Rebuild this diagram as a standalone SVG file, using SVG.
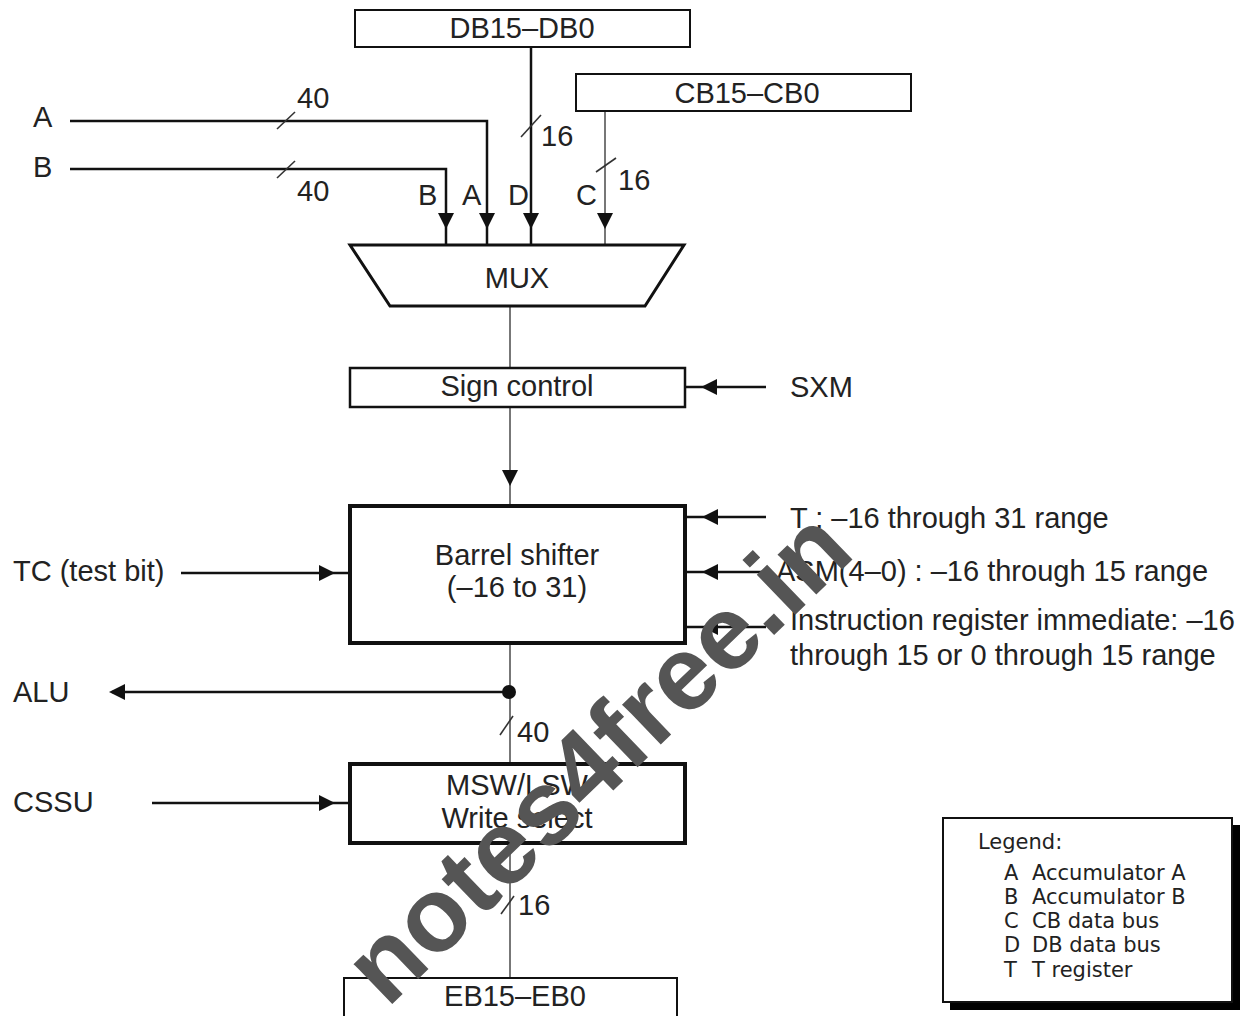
<svg xmlns="http://www.w3.org/2000/svg" width="1250" height="1016" viewBox="0 0 1250 1016">
<style>
text{font-family:"Liberation Sans",Arial,sans-serif;fill:#222;}
.t{font-size:29px;}
.c{text-anchor:middle;}
.box{fill:#fff;stroke:#111;}
.bus{fill:none;stroke:#111;stroke-width:2.5;}
.thin{fill:none;stroke:#555;stroke-width:1.6;}
.sl{fill:none;stroke:#333;stroke-width:1.6;}
.lg{font-family:"DejaVu Sans",Verdana,sans-serif;font-size:21px;fill:#222;}
.ah{fill:#111;}
.wm{font-family:"Liberation Sans",Arial,sans-serif;font-weight:bold;font-size:105px;fill:#555;}
</style>
<defs>
<polygon id="ad" points="0,0 -8,-16 8,-16"/>
</defs>
<rect width="1250" height="1016" fill="#fff"/>

<g id="connectors">
  <polyline class="bus" points="70,121 487,121 487,245"/>
  <polyline class="bus" points="70,169 446,169 446,245"/>
  <line class="bus" x1="531" y1="48" x2="531" y2="245" stroke-width="2"/>
  <line class="thin" x1="605" y1="111" x2="605" y2="245"/>
  <use href="#ad" class="ah" x="446" y="229"/>
  <use href="#ad" class="ah" x="487" y="229"/>
  <use href="#ad" class="ah" x="531" y="229"/>
  <use href="#ad" class="ah" x="605" y="229"/>
  <line class="sl" x1="277" y1="129" x2="295" y2="112"/>
  <line class="sl" x1="277" y1="178" x2="295" y2="161"/>
  <line class="sl" x1="521" y1="137" x2="541" y2="115"/>
  <line class="sl" x1="596" y1="172" x2="616" y2="158"/>
  <line class="thin" x1="510" y1="306" x2="510" y2="368"/>
  <line class="thin" x1="510" y1="407" x2="510" y2="506"/>
  <use href="#ad" class="ah" x="510" y="486"/>
  <line class="thin" x1="510" y1="643" x2="510" y2="763"/>
  <line class="thin" x1="510" y1="843" x2="510" y2="978"/>
  <line class="sl" x1="500" y1="735" x2="513" y2="716"/>
  <line class="sl" x1="501" y1="914" x2="514" y2="896"/>
  <circle cx="509" cy="692" r="7" fill="#111"/>
  <line class="bus" x1="509" y1="692" x2="112" y2="692" stroke-width="2"/>
  <use href="#ad" class="ah" transform="translate(109,692) rotate(90)"/>
  <line class="bus" x1="766" y1="387" x2="685" y2="387" stroke-width="2"/>
  <use href="#ad" class="ah" transform="translate(701,387) rotate(90)"/>
  <line class="bus" x1="766" y1="517" x2="685" y2="517" stroke-width="2"/>
  <use href="#ad" class="ah" transform="translate(702,517) rotate(90)"/>
  <line class="bus" x1="766" y1="572" x2="685" y2="572" stroke-width="2"/>
  <use href="#ad" class="ah" transform="translate(702,572) rotate(90)"/>
  <line class="bus" x1="766" y1="627" x2="685" y2="627" stroke-width="2"/>
  <use href="#ad" class="ah" transform="translate(702,627) rotate(90)"/>
  <line class="bus" x1="181" y1="573" x2="350" y2="573" stroke-width="2"/>
  <use href="#ad" class="ah" transform="translate(335,573) rotate(-90)"/>
  <line class="bus" x1="152" y1="803" x2="350" y2="803" stroke-width="2"/>
  <use href="#ad" class="ah" transform="translate(335,803) rotate(-90)"/>
</g>

<g id="labels">
  <text class="t" x="33" y="127">A</text>
  <text class="t" x="33" y="177">B</text>
  <text class="t" x="297" y="108">40</text>
  <text class="t" x="297" y="201">40</text>
  <text class="t" x="541" y="146">16</text>
  <text class="t" x="618" y="190">16</text>
  <text class="t" x="418" y="205">B</text>
  <text class="t" x="462" y="205">A</text>
  <text class="t" x="508" y="205">D</text>
  <text class="t" x="576" y="205">C</text>
  <text class="t" x="790" y="397">SXM</text>
  <text class="t" x="790" y="528">T : –16 through 31 range</text>
  <text class="t" x="776" y="581">ASM(4–0) : –16 through 15 range</text>
  <text class="t" x="790" y="630">Instruction register immediate: –16</text>
  <text class="t" x="790" y="665">through 15 or 0 through 15 range</text>
  <text class="t" x="13" y="581">TC (test bit)</text>
  <text class="t" x="13" y="702">ALU</text>
  <text class="t" x="13" y="812">CSSU</text>
  <text class="t" x="517" y="742">40</text>
  <text class="t" x="518" y="915">16</text>
</g>

<g id="db">
  <rect class="box" x="355" y="10" width="335" height="37" stroke-width="2"/>
  <text class="t c" x="522" y="38">DB15–DB0</text>
</g>
<g id="cb">
  <rect class="box" x="576" y="74" width="335" height="37" stroke-width="2"/>
  <text class="t c" x="747" y="103">CB15–CB0</text>
</g>
<g id="mux">
  <polygon class="box" points="350,245 684,245 645,306 390,306" stroke-width="3"/>
  <text class="t c" x="517" y="288">MUX</text>
</g>
<g id="sign">
  <rect class="box" x="350" y="368" width="335" height="39" stroke-width="2.5"/>
  <text class="t c" x="517" y="396">Sign control</text>
</g>
<g id="barrel">
  <rect class="box" x="350" y="506" width="335" height="137" stroke-width="4"/>
  <text class="t c" x="517" y="565">Barrel shifter</text>
  <text class="t c" x="517" y="597">(–16 to 31)</text>
</g>
<g id="msw">
  <rect class="box" x="350" y="764" width="335" height="79" stroke-width="4"/>
  <text class="t c" x="517" y="795">MSW/LSW</text>
  <text class="t c" x="517" y="828">Write select</text>
</g>
<g id="eb">
  <rect class="box" x="344" y="978" width="333" height="45" stroke-width="2"/>
  <text class="t c" x="515" y="1006">EB15–EB0</text>
</g>
<g id="legend">
  <rect x="950" y="825" width="290" height="185" fill="#000"/>
  <rect x="943" y="818" width="289" height="184" fill="#fff" stroke="#111" stroke-width="2"/>
  <text class="lg" x="978" y="849">Legend:</text>
  <text class="lg" x="1004" y="880">A</text><text class="lg" x="1032" y="880">Accumulator A</text>
  <text class="lg" x="1004" y="904">B</text><text class="lg" x="1032" y="904">Accumulator B</text>
  <text class="lg" x="1004" y="928">C</text><text class="lg" x="1032" y="928">CB data bus</text>
  <text class="lg" x="1004" y="952">D</text><text class="lg" x="1032" y="952">DB data bus</text>
  <text class="lg" x="1004" y="977">T</text><text class="lg" x="1032" y="977">T register</text>
</g>

<g id="watermark">
  <text class="wm" text-anchor="middle" transform="translate(622,782) rotate(-44)">notes4free.in</text>
</g>
</svg>
